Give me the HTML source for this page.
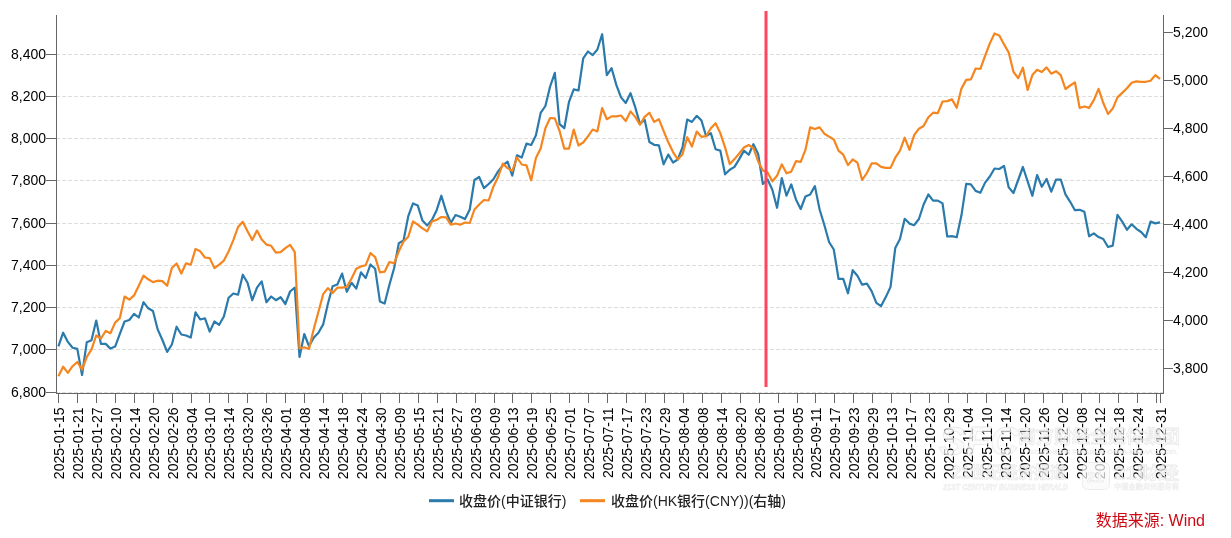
<!DOCTYPE html>
<html><head><meta charset="utf-8"><style>
html,body{margin:0;padding:0;background:#fff;}
body{width:1231px;height:538px;overflow:hidden;}
svg{display:block;will-change:transform;}
.t{font-family:"Liberation Sans",Arial,sans-serif;font-size:14px;fill:#000;}
.lg{font-family:"Liberation Sans","Noto Sans CJK SC",sans-serif;font-size:14px;font-weight:500;fill:#222;}
.src{font-family:"Liberation Sans","Noto Sans CJK SC",sans-serif;font-size:16px;fill:#cc0a14;}
</style></head><body>
<svg width="1231" height="538" viewBox="0 0 1231 538">
<line x1="56" x2="1163" y1="54.5" y2="54.5" stroke="#ddd" stroke-width="1" stroke-dasharray="4,2"/>
<line x1="56" x2="1163" y1="96.5" y2="96.5" stroke="#ddd" stroke-width="1" stroke-dasharray="4,2"/>
<line x1="56" x2="1163" y1="138.5" y2="138.5" stroke="#ddd" stroke-width="1" stroke-dasharray="4,2"/>
<line x1="56" x2="1163" y1="180.5" y2="180.5" stroke="#ddd" stroke-width="1" stroke-dasharray="4,2"/>
<line x1="56" x2="1163" y1="223.5" y2="223.5" stroke="#ddd" stroke-width="1" stroke-dasharray="4,2"/>
<line x1="56" x2="1163" y1="265.5" y2="265.5" stroke="#ddd" stroke-width="1" stroke-dasharray="4,2"/>
<line x1="56" x2="1163" y1="307.5" y2="307.5" stroke="#ddd" stroke-width="1" stroke-dasharray="4,2"/>
<line x1="56" x2="1163" y1="349.5" y2="349.5" stroke="#ddd" stroke-width="1" stroke-dasharray="4,2"/>
<line x1="56" x2="1163" y1="392.5" y2="392.5" stroke="#ddd" stroke-width="1" stroke-dasharray="4,2"/>
<line x1="56.5" x2="56.5" y1="15" y2="393.5" stroke="#666" stroke-width="1"/>
<line x1="1163.5" x2="1163.5" y1="15" y2="393.5" stroke="#666" stroke-width="1"/>
<line x1="56" x2="1164" y1="393.5" y2="393.5" stroke="#666" stroke-width="1"/>
<line x1="46" x2="56.5" y1="54.5" y2="54.5" stroke="#666"/>
<text x="46" y="54.5" dy="4.5" text-anchor="end" class="t">8,400</text>
<line x1="46" x2="56.5" y1="96.5" y2="96.5" stroke="#666"/>
<text x="46" y="96.5" dy="4.5" text-anchor="end" class="t">8,200</text>
<line x1="46" x2="56.5" y1="138.5" y2="138.5" stroke="#666"/>
<text x="46" y="138.5" dy="4.5" text-anchor="end" class="t">8,000</text>
<line x1="46" x2="56.5" y1="180.5" y2="180.5" stroke="#666"/>
<text x="46" y="180.5" dy="4.5" text-anchor="end" class="t">7,800</text>
<line x1="46" x2="56.5" y1="223.5" y2="223.5" stroke="#666"/>
<text x="46" y="223.5" dy="4.5" text-anchor="end" class="t">7,600</text>
<line x1="46" x2="56.5" y1="265.5" y2="265.5" stroke="#666"/>
<text x="46" y="265.5" dy="4.5" text-anchor="end" class="t">7,400</text>
<line x1="46" x2="56.5" y1="307.5" y2="307.5" stroke="#666"/>
<text x="46" y="307.5" dy="4.5" text-anchor="end" class="t">7,200</text>
<line x1="46" x2="56.5" y1="349.5" y2="349.5" stroke="#666"/>
<text x="46" y="349.5" dy="4.5" text-anchor="end" class="t">7,000</text>
<line x1="46" x2="56.5" y1="392.5" y2="392.5" stroke="#666"/>
<text x="46" y="392.5" dy="4.5" text-anchor="end" class="t">6,800</text>
<line x1="1163.5" x2="1173" y1="32.5" y2="32.5" stroke="#666"/>
<text x="1173" y="32.5" dy="4.7" class="t">5,200</text>
<line x1="1163.5" x2="1173" y1="80.5" y2="80.5" stroke="#666"/>
<text x="1173" y="80.5" dy="4.7" class="t">5,000</text>
<line x1="1163.5" x2="1173" y1="128.5" y2="128.5" stroke="#666"/>
<text x="1173" y="128.5" dy="4.7" class="t">4,800</text>
<line x1="1163.5" x2="1173" y1="176.5" y2="176.5" stroke="#666"/>
<text x="1173" y="176.5" dy="4.7" class="t">4,600</text>
<line x1="1163.5" x2="1173" y1="224.5" y2="224.5" stroke="#666"/>
<text x="1173" y="224.5" dy="4.7" class="t">4,400</text>
<line x1="1163.5" x2="1173" y1="272.5" y2="272.5" stroke="#666"/>
<text x="1173" y="272.5" dy="4.7" class="t">4,200</text>
<line x1="1163.5" x2="1173" y1="320.5" y2="320.5" stroke="#666"/>
<text x="1173" y="320.5" dy="4.7" class="t">4,000</text>
<line x1="1163.5" x2="1173" y1="368.5" y2="368.5" stroke="#666"/>
<text x="1173" y="368.5" dy="4.7" class="t">3,800</text>
<line x1="58.5" x2="58.5" y1="393.5" y2="403" stroke="#666"/>
<text transform="translate(58.8,407.5) rotate(-90)" dy="5" text-anchor="end" class="t">2025-01-15</text>
<line x1="77.5" x2="77.5" y1="393.5" y2="403" stroke="#666"/>
<text transform="translate(77.8,407.5) rotate(-90)" dy="5" text-anchor="end" class="t">2025-01-21</text>
<line x1="96.5" x2="96.5" y1="393.5" y2="403" stroke="#666"/>
<text transform="translate(96.8,407.5) rotate(-90)" dy="5" text-anchor="end" class="t">2025-01-27</text>
<line x1="115.5" x2="115.5" y1="393.5" y2="403" stroke="#666"/>
<text transform="translate(115.8,407.5) rotate(-90)" dy="5" text-anchor="end" class="t">2025-02-10</text>
<line x1="134.5" x2="134.5" y1="393.5" y2="403" stroke="#666"/>
<text transform="translate(134.8,407.5) rotate(-90)" dy="5" text-anchor="end" class="t">2025-02-14</text>
<line x1="153.5" x2="153.5" y1="393.5" y2="403" stroke="#666"/>
<text transform="translate(153.8,407.5) rotate(-90)" dy="5" text-anchor="end" class="t">2025-02-20</text>
<line x1="172.5" x2="172.5" y1="393.5" y2="403" stroke="#666"/>
<text transform="translate(172.8,407.5) rotate(-90)" dy="5" text-anchor="end" class="t">2025-02-26</text>
<line x1="191.5" x2="191.5" y1="393.5" y2="403" stroke="#666"/>
<text transform="translate(191.8,407.5) rotate(-90)" dy="5" text-anchor="end" class="t">2025-03-04</text>
<line x1="209.5" x2="209.5" y1="393.5" y2="403" stroke="#666"/>
<text transform="translate(209.8,407.5) rotate(-90)" dy="5" text-anchor="end" class="t">2025-03-10</text>
<line x1="228.5" x2="228.5" y1="393.5" y2="403" stroke="#666"/>
<text transform="translate(228.8,407.5) rotate(-90)" dy="5" text-anchor="end" class="t">2025-03-14</text>
<line x1="247.5" x2="247.5" y1="393.5" y2="403" stroke="#666"/>
<text transform="translate(247.8,407.5) rotate(-90)" dy="5" text-anchor="end" class="t">2025-03-20</text>
<line x1="266.5" x2="266.5" y1="393.5" y2="403" stroke="#666"/>
<text transform="translate(266.8,407.5) rotate(-90)" dy="5" text-anchor="end" class="t">2025-03-26</text>
<line x1="285.5" x2="285.5" y1="393.5" y2="403" stroke="#666"/>
<text transform="translate(285.8,407.5) rotate(-90)" dy="5" text-anchor="end" class="t">2025-04-01</text>
<line x1="304.5" x2="304.5" y1="393.5" y2="403" stroke="#666"/>
<text transform="translate(304.8,407.5) rotate(-90)" dy="5" text-anchor="end" class="t">2025-04-08</text>
<line x1="323.5" x2="323.5" y1="393.5" y2="403" stroke="#666"/>
<text transform="translate(323.8,407.5) rotate(-90)" dy="5" text-anchor="end" class="t">2025-04-14</text>
<line x1="342.5" x2="342.5" y1="393.5" y2="403" stroke="#666"/>
<text transform="translate(342.8,407.5) rotate(-90)" dy="5" text-anchor="end" class="t">2025-04-18</text>
<line x1="361.5" x2="361.5" y1="393.5" y2="403" stroke="#666"/>
<text transform="translate(361.8,407.5) rotate(-90)" dy="5" text-anchor="end" class="t">2025-04-24</text>
<line x1="380.5" x2="380.5" y1="393.5" y2="403" stroke="#666"/>
<text transform="translate(380.8,407.5) rotate(-90)" dy="5" text-anchor="end" class="t">2025-04-30</text>
<line x1="399.5" x2="399.5" y1="393.5" y2="403" stroke="#666"/>
<text transform="translate(399.8,407.5) rotate(-90)" dy="5" text-anchor="end" class="t">2025-05-09</text>
<line x1="418.5" x2="418.5" y1="393.5" y2="403" stroke="#666"/>
<text transform="translate(418.8,407.5) rotate(-90)" dy="5" text-anchor="end" class="t">2025-05-15</text>
<line x1="437.5" x2="437.5" y1="393.5" y2="403" stroke="#666"/>
<text transform="translate(437.8,407.5) rotate(-90)" dy="5" text-anchor="end" class="t">2025-05-21</text>
<line x1="456.5" x2="456.5" y1="393.5" y2="403" stroke="#666"/>
<text transform="translate(456.8,407.5) rotate(-90)" dy="5" text-anchor="end" class="t">2025-05-27</text>
<line x1="475.5" x2="475.5" y1="393.5" y2="403" stroke="#666"/>
<text transform="translate(475.8,407.5) rotate(-90)" dy="5" text-anchor="end" class="t">2025-06-03</text>
<line x1="494.5" x2="494.5" y1="393.5" y2="403" stroke="#666"/>
<text transform="translate(494.8,407.5) rotate(-90)" dy="5" text-anchor="end" class="t">2025-06-09</text>
<line x1="512.5" x2="512.5" y1="393.5" y2="403" stroke="#666"/>
<text transform="translate(512.8,407.5) rotate(-90)" dy="5" text-anchor="end" class="t">2025-06-13</text>
<line x1="531.5" x2="531.5" y1="393.5" y2="403" stroke="#666"/>
<text transform="translate(531.8,407.5) rotate(-90)" dy="5" text-anchor="end" class="t">2025-06-19</text>
<line x1="550.5" x2="550.5" y1="393.5" y2="403" stroke="#666"/>
<text transform="translate(550.8,407.5) rotate(-90)" dy="5" text-anchor="end" class="t">2025-06-25</text>
<line x1="569.5" x2="569.5" y1="393.5" y2="403" stroke="#666"/>
<text transform="translate(569.8,407.5) rotate(-90)" dy="5" text-anchor="end" class="t">2025-07-01</text>
<line x1="588.5" x2="588.5" y1="393.5" y2="403" stroke="#666"/>
<text transform="translate(588.8,407.5) rotate(-90)" dy="5" text-anchor="end" class="t">2025-07-07</text>
<line x1="607.5" x2="607.5" y1="393.5" y2="403" stroke="#666"/>
<text transform="translate(607.8,407.5) rotate(-90)" dy="5" text-anchor="end" class="t">2025-07-11</text>
<line x1="626.5" x2="626.5" y1="393.5" y2="403" stroke="#666"/>
<text transform="translate(626.8,407.5) rotate(-90)" dy="5" text-anchor="end" class="t">2025-07-17</text>
<line x1="645.5" x2="645.5" y1="393.5" y2="403" stroke="#666"/>
<text transform="translate(645.8,407.5) rotate(-90)" dy="5" text-anchor="end" class="t">2025-07-23</text>
<line x1="664.5" x2="664.5" y1="393.5" y2="403" stroke="#666"/>
<text transform="translate(664.8,407.5) rotate(-90)" dy="5" text-anchor="end" class="t">2025-07-29</text>
<line x1="683.5" x2="683.5" y1="393.5" y2="403" stroke="#666"/>
<text transform="translate(683.8,407.5) rotate(-90)" dy="5" text-anchor="end" class="t">2025-08-04</text>
<line x1="702.5" x2="702.5" y1="393.5" y2="403" stroke="#666"/>
<text transform="translate(702.8,407.5) rotate(-90)" dy="5" text-anchor="end" class="t">2025-08-08</text>
<line x1="721.5" x2="721.5" y1="393.5" y2="403" stroke="#666"/>
<text transform="translate(721.8,407.5) rotate(-90)" dy="5" text-anchor="end" class="t">2025-08-14</text>
<line x1="740.5" x2="740.5" y1="393.5" y2="403" stroke="#666"/>
<text transform="translate(740.8,407.5) rotate(-90)" dy="5" text-anchor="end" class="t">2025-08-20</text>
<line x1="759.5" x2="759.5" y1="393.5" y2="403" stroke="#666"/>
<text transform="translate(759.8,407.5) rotate(-90)" dy="5" text-anchor="end" class="t">2025-08-26</text>
<line x1="778.5" x2="778.5" y1="393.5" y2="403" stroke="#666"/>
<text transform="translate(778.8,407.5) rotate(-90)" dy="5" text-anchor="end" class="t">2025-09-01</text>
<line x1="797.5" x2="797.5" y1="393.5" y2="403" stroke="#666"/>
<text transform="translate(797.8,407.5) rotate(-90)" dy="5" text-anchor="end" class="t">2025-09-05</text>
<line x1="815.5" x2="815.5" y1="393.5" y2="403" stroke="#666"/>
<text transform="translate(815.8,407.5) rotate(-90)" dy="5" text-anchor="end" class="t">2025-09-11</text>
<line x1="834.5" x2="834.5" y1="393.5" y2="403" stroke="#666"/>
<text transform="translate(834.8,407.5) rotate(-90)" dy="5" text-anchor="end" class="t">2025-09-17</text>
<line x1="853.5" x2="853.5" y1="393.5" y2="403" stroke="#666"/>
<text transform="translate(853.8,407.5) rotate(-90)" dy="5" text-anchor="end" class="t">2025-09-23</text>
<line x1="872.5" x2="872.5" y1="393.5" y2="403" stroke="#666"/>
<text transform="translate(872.8,407.5) rotate(-90)" dy="5" text-anchor="end" class="t">2025-09-29</text>
<line x1="891.5" x2="891.5" y1="393.5" y2="403" stroke="#666"/>
<text transform="translate(891.8,407.5) rotate(-90)" dy="5" text-anchor="end" class="t">2025-10-13</text>
<line x1="910.5" x2="910.5" y1="393.5" y2="403" stroke="#666"/>
<text transform="translate(910.8,407.5) rotate(-90)" dy="5" text-anchor="end" class="t">2025-10-17</text>
<line x1="929.5" x2="929.5" y1="393.5" y2="403" stroke="#666"/>
<text transform="translate(929.8,407.5) rotate(-90)" dy="5" text-anchor="end" class="t">2025-10-23</text>
<line x1="948.5" x2="948.5" y1="393.5" y2="403" stroke="#666"/>
<text transform="translate(948.8,407.5) rotate(-90)" dy="5" text-anchor="end" class="t">2025-10-29</text>
<line x1="967.5" x2="967.5" y1="393.5" y2="403" stroke="#666"/>
<text transform="translate(967.8,407.5) rotate(-90)" dy="5" text-anchor="end" class="t">2025-11-04</text>
<line x1="986.5" x2="986.5" y1="393.5" y2="403" stroke="#666"/>
<text transform="translate(986.8,407.5) rotate(-90)" dy="5" text-anchor="end" class="t">2025-11-10</text>
<line x1="1005.5" x2="1005.5" y1="393.5" y2="403" stroke="#666"/>
<text transform="translate(1005.8,407.5) rotate(-90)" dy="5" text-anchor="end" class="t">2025-11-14</text>
<line x1="1024.5" x2="1024.5" y1="393.5" y2="403" stroke="#666"/>
<text transform="translate(1024.8,407.5) rotate(-90)" dy="5" text-anchor="end" class="t">2025-11-20</text>
<line x1="1043.5" x2="1043.5" y1="393.5" y2="403" stroke="#666"/>
<text transform="translate(1043.8,407.5) rotate(-90)" dy="5" text-anchor="end" class="t">2025-11-26</text>
<line x1="1062.5" x2="1062.5" y1="393.5" y2="403" stroke="#666"/>
<text transform="translate(1062.8,407.5) rotate(-90)" dy="5" text-anchor="end" class="t">2025-12-02</text>
<line x1="1081.5" x2="1081.5" y1="393.5" y2="403" stroke="#666"/>
<text transform="translate(1081.8,407.5) rotate(-90)" dy="5" text-anchor="end" class="t">2025-12-08</text>
<line x1="1099.5" x2="1099.5" y1="393.5" y2="403" stroke="#666"/>
<text transform="translate(1099.8,407.5) rotate(-90)" dy="5" text-anchor="end" class="t">2025-12-12</text>
<line x1="1118.5" x2="1118.5" y1="393.5" y2="403" stroke="#666"/>
<text transform="translate(1118.8,407.5) rotate(-90)" dy="5" text-anchor="end" class="t">2025-12-18</text>
<line x1="1137.5" x2="1137.5" y1="393.5" y2="403" stroke="#666"/>
<text transform="translate(1137.8,407.5) rotate(-90)" dy="5" text-anchor="end" class="t">2025-12-24</text>
<line x1="1156.5" x2="1156.5" y1="393.5" y2="403" stroke="#666"/>
<line x1="1160.5" x2="1160.5" y1="393.5" y2="403" stroke="#666"/>
<text transform="translate(1160.8,407.5) rotate(-90)" dy="5" text-anchor="end" class="t">2025-12-31</text>
<path d="M58.40,346.3L63.13,332.7L67.86,341.9L72.58,347.7L77.31,348.9L82.04,375.0L86.77,342.2L91.50,340.2L96.22,320.5L100.95,343.9L105.68,343.9L110.41,348.6L115.14,346.6L119.86,333.8L124.59,321.5L129.32,320.0L134.05,313.8L138.78,317.5L143.50,302.2L148.23,308.3L152.96,311.0L157.69,329.4L162.42,340.0L167.14,351.9L171.87,344.5L176.60,326.7L181.33,334.5L186.06,335.5L190.78,337.6L195.51,312.4L200.24,319.5L204.97,318.3L209.70,331.6L214.42,321.5L219.15,324.8L223.88,316.5L228.61,297.7L233.34,293.5L238.06,294.7L242.79,274.7L247.52,282.7L252.25,300.2L256.98,287.7L261.70,281.4L266.43,302.2L271.16,296.5L275.89,300.2L280.62,297.2L285.34,304.0L290.07,291.5L294.80,287.7L299.53,357.0L304.26,334.0L308.98,346.1L313.71,337.7L318.44,332.8L323.17,324.4L327.90,303.8L332.62,286.2L337.35,284.5L342.08,273.6L346.81,291.8L351.54,282.8L356.26,288.6L360.99,272.4L365.72,278.0L370.45,264.5L375.18,268.8L379.90,301.4L384.63,303.5L389.36,285.0L394.09,268.2L398.82,243.3L403.54,240.4L408.27,216.2L413.00,203.4L417.73,205.4L422.46,220.6L427.18,225.4L431.91,219.9L436.64,210.2L441.37,195.7L446.10,211.4L450.82,223.0L455.55,215.0L460.28,216.7L465.01,219.1L469.74,209.5L474.46,180.0L479.19,177.0L483.92,188.1L488.65,184.0L493.38,179.2L498.10,171.4L502.83,165.3L507.56,161.7L512.29,175.6L517.02,155.3L521.74,157.5L526.47,143.6L531.20,145.0L535.93,135.2L540.66,112.9L545.38,106.0L550.11,86.5L554.84,72.9L559.57,124.1L564.30,128.2L569.02,101.8L573.75,89.4L578.48,90.5L583.21,58.4L587.94,51.5L592.66,55.1L597.39,49.5L602.12,34.2L606.85,75.1L611.58,68.2L616.30,84.9L621.03,97.4L625.76,103.0L630.49,93.2L635.22,107.2L639.94,123.9L644.67,119.7L649.40,142.0L654.13,144.8L658.86,145.3L663.58,164.3L668.31,154.6L673.04,162.5L677.77,159.5L682.50,147.4L687.22,119.5L691.95,121.9L696.68,115.8L701.41,120.4L706.14,136.2L710.86,133.1L715.59,149.3L720.32,150.6L725.05,174.3L729.78,169.7L734.50,166.9L739.23,159.1L743.96,150.6L748.69,154.8L753.42,144.2L758.14,153.9L762.87,184.0L767.60,179.5L772.33,189.7L777.06,207.8L781.78,178.1L786.51,195.7L791.24,184.4L795.97,199.4L800.70,209.0L805.42,196.5L810.15,194.5L814.88,186.1L819.61,209.5L824.34,225.0L829.06,242.0L833.79,249.5L838.52,278.8L843.25,278.8L847.98,293.3L852.70,270.2L857.43,275.8L862.16,284.7L866.89,283.7L871.62,291.2L876.34,302.9L881.07,306.1L885.80,297.1L890.53,286.9L895.26,248.0L899.98,239.0L904.71,218.8L909.44,223.6L914.17,225.2L918.90,219.0L923.62,204.5L928.35,194.5L933.08,200.6L937.81,200.6L942.54,203.4L947.26,236.5L951.99,236.1L956.72,237.3L961.45,215.3L966.18,183.9L970.90,184.4L975.63,190.9L980.36,192.7L985.09,182.6L989.82,176.5L994.54,168.5L999.27,169.0L1004.00,165.8L1008.73,187.4L1013.46,193.0L1018.18,180.0L1022.91,167.0L1027.64,181.3L1032.37,195.8L1037.10,175.0L1041.82,186.8L1046.55,179.0L1051.28,191.7L1056.01,179.7L1060.74,179.5L1065.46,194.4L1070.19,201.8L1074.92,210.2L1079.65,209.8L1084.38,211.7L1089.10,236.2L1093.83,233.4L1098.56,237.1L1103.29,239.0L1108.02,247.0L1112.74,245.6L1117.47,214.9L1122.20,221.6L1126.93,229.8L1131.66,224.3L1136.38,228.8L1141.11,232.0L1145.84,237.2L1150.57,221.6L1155.30,223.4L1160.02,222.4" fill="none" stroke="#2a7aab" stroke-width="2.2" stroke-linejoin="round"/>
<path d="M58.40,376.2L63.13,366.7L67.86,372.8L72.58,366.2L77.31,362.0L82.04,369.5L86.77,357.0L91.50,349.4L96.22,335.5L100.95,338.5L105.68,331.0L110.41,333.2L115.14,322.6L119.86,318.1L124.59,296.5L129.32,299.7L134.05,295.4L138.78,285.8L143.50,275.6L148.23,279.3L152.96,282.1L157.69,280.7L162.42,281.1L167.14,285.8L171.87,268.0L176.60,263.5L181.33,273.5L186.06,263.3L190.78,264.7L195.51,249.0L200.24,251.3L204.97,257.5L209.70,258.1L214.42,268.1L219.15,264.6L223.88,260.6L228.61,251.4L233.34,240.1L238.06,227.0L242.79,221.8L247.52,231.3L252.25,240.1L256.98,230.6L261.70,239.6L266.43,244.6L271.16,245.8L275.89,252.6L280.62,252.1L285.34,248.1L290.07,244.8L294.80,252.2L299.53,348.5L304.26,347.3L308.98,349.0L313.71,329.2L318.44,311.8L323.17,294.2L327.90,288.1L332.62,293.0L337.35,287.7L342.08,287.7L346.81,286.9L351.54,278.5L356.26,268.8L360.99,266.4L365.72,265.2L370.45,253.1L375.18,257.2L379.90,272.4L384.63,271.7L389.36,262.0L394.09,263.3L398.82,251.3L403.54,241.6L408.27,236.8L413.00,221.5L417.73,224.7L422.46,228.3L427.18,231.4L431.91,221.5L436.64,219.9L441.37,217.0L446.10,217.4L450.82,224.7L455.55,223.5L460.28,224.7L465.01,222.5L469.74,223.0L474.46,209.5L479.19,204.5L483.92,200.0L488.65,200.5L493.38,186.7L498.10,177.0L502.83,163.6L507.56,168.1L512.29,170.9L517.02,157.5L521.74,164.5L526.47,165.3L531.20,180.3L535.93,158.0L540.66,148.6L545.38,128.2L550.11,118.0L554.84,118.3L559.57,131.0L564.30,148.6L569.02,148.6L573.75,129.6L578.48,145.5L583.21,142.5L587.94,136.4L592.66,129.5L597.39,131.4L602.12,108.0L606.85,119.2L611.58,116.4L616.30,116.4L621.03,115.5L625.76,121.1L630.49,111.4L635.22,116.9L639.94,124.7L644.67,116.9L649.40,112.7L654.13,121.9L658.86,119.2L663.58,130.8L668.31,142.3L673.04,152.1L677.77,159.5L682.50,154.3L687.22,137.2L691.95,146.5L696.68,131.6L701.41,136.8L706.14,136.2L710.86,128.3L715.59,123.2L720.32,133.1L725.05,147.4L729.78,164.1L734.50,159.1L739.23,153.5L743.96,147.4L748.69,145.0L753.42,148.0L758.14,161.3L762.87,170.6L767.60,172.5L772.33,181.3L777.06,175.7L781.78,164.3L786.51,173.3L791.24,171.6L795.97,161.2L800.70,161.9L805.42,149.9L810.15,127.4L814.88,129.0L819.61,127.4L824.34,133.7L829.06,136.6L833.79,139.5L838.52,150.6L843.25,154.7L847.98,165.1L852.70,159.5L857.43,162.7L862.16,180.0L866.89,173.0L871.62,163.4L876.34,163.4L881.07,166.9L885.80,167.9L890.53,167.9L895.26,157.7L899.98,150.6L904.71,137.7L909.44,149.9L914.17,135.2L918.90,128.7L923.62,126.0L928.35,117.2L933.08,112.7L937.81,113.1L942.54,101.5L947.26,101.1L951.99,99.4L956.72,107.8L961.45,88.6L966.18,79.9L970.90,79.4L975.63,68.5L980.36,68.8L985.09,55.9L989.82,43.4L994.54,33.5L999.27,35.4L1004.00,44.2L1008.73,52.6L1013.46,71.8L1018.18,78.2L1022.91,67.7L1027.64,89.9L1032.37,75.1L1037.10,69.8L1041.82,72.0L1046.55,67.4L1051.28,73.7L1056.01,71.2L1060.74,75.1L1065.46,89.0L1070.19,85.5L1074.92,82.3L1079.65,107.9L1084.38,106.5L1089.10,107.9L1093.83,100.2L1098.56,88.8L1103.29,103.0L1108.02,113.9L1112.74,108.6L1117.47,97.4L1122.20,92.9L1126.93,88.3L1131.66,82.8L1136.38,81.4L1141.11,81.8L1145.84,81.8L1150.57,80.7L1155.30,75.1L1160.02,79.0" fill="none" stroke="#f5861f" stroke-width="2.2" stroke-linejoin="round"/>
<g fill="#fafafa" fill-opacity="0.72" stroke="#d9d9d9" stroke-opacity="0.55" stroke-width="0.8" font-family="Liberation Sans, Noto Sans CJK SC, sans-serif" font-weight="bold"><text x="939" y="455" font-size="41" font-style="italic" textLength="80" lengthAdjust="spacingAndGlyphs">SFC</text><text x="1018" y="443" font-size="18" textLength="162" lengthAdjust="spacingAndGlyphs">南方财经全媒体集团</text><text x="1029" y="454" font-size="5" stroke-width="0.3" textLength="148" lengthAdjust="spacingAndGlyphs">SOUTHERN FINANCE OMNI-MEDIA CORP.</text><text x="952" y="478" font-size="16" textLength="114" lengthAdjust="spacingAndGlyphs">21世纪经济报道</text><text x="943" y="489.5" font-size="8.5" font-style="italic" stroke-width="0.5" textLength="125" lengthAdjust="spacingAndGlyphs">21ST CENTURY BUSINESS HERALD</text><rect x="1082.5" y="462.5" width="27" height="27" rx="5"/><text x="1087" y="482" font-size="15" stroke-width="0.6">21</text><text x="1114" y="478.5" font-size="17" textLength="65" lengthAdjust="spacingAndGlyphs">21财经</text><text x="1114" y="489" font-size="6.5" stroke-width="0.3" textLength="65" lengthAdjust="spacingAndGlyphs">中国金融资讯服务商</text></g>
<rect x="764.5" y="11" width="3" height="376" fill="#ff4560"/>
<rect x="429" y="499.2" width="25" height="3" fill="#2a7aab"/>
<text x="459" y="506" class="lg">收盘价(中证银行)</text>
<rect x="580" y="499.2" width="25" height="3" fill="#f5861f"/>
<text x="611" y="506" class="lg">收盘价(HK银行(CNY))(右轴)</text>
<text x="1205" y="526" text-anchor="end" class="src">数据来源: Wind</text>
</svg>
</body></html>
